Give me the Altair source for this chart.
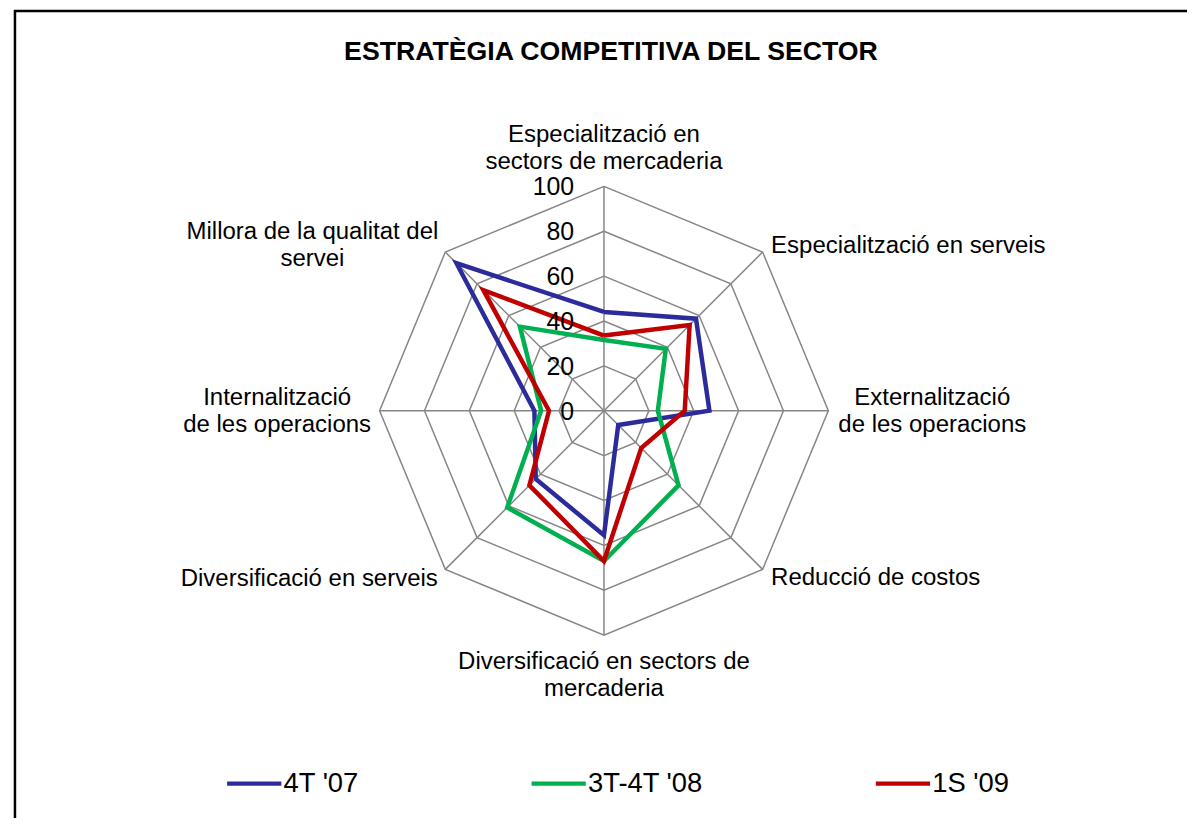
import math
import altair as alt
import pandas as pd

# ---------------- data ----------------
categories = [
    "Especialització en\nsectors de mercaderia",
    "Especialització en serveis",
    "Externalització\nde les operacions",
    "Reducció de costos",
    "Diversificació en sectors de\nmercaderia",
    "Diversificació en serveis",
    "Internalització\nde les operacions",
    "Millora de la qualitat del\nservei",
]
series_names = ["4T '07", "3T-4T '08", "1S '09"]
values_4t07 = [44, 58, 47, 9, 55.5, 43, 31, 93]
values_3t4t08 = [31.5, 39, 24, 47, 67, 61, 28, 53]
values_1s09 = [33.5, 54, 36, 23.5, 67, 47, 24.5, 76]
tick_values = [0, 20, 40, 60, 80, 100]
tick_labels = ["0", "20", "40", "60", "80", "100"]
title_text = "ESTRATÈGIA COMPETITIVA DEL SECTOR"

# ---------------- styling / layout ----------------
colors = ["#2B2B9B", "#00B050", "#C00000"]
FONT = "Liberation Sans"
GRID = "#868686"
S = 2.255            # pixels per value unit
W, H = 1185, 812
CX, CY = 599, 402.7  # radar centre inside the svg
N = len(categories)
XS = alt.Scale(domain=[-CX, W - CX], nice=False, zero=False)
YS = alt.Scale(domain=[-(H - CY), CY], nice=False, zero=False)

# label layout: (page x, first baseline page y, align)
label_layout = [
    (607, 141, "center"),
    (775, 252, "left"),
    (937, 405, "center"),
    (775, 586, "left"),
    (607, 670, "center"),
    (440, 587, "right"),
    (278.5, 405, "center"),
    (314, 238, "center"),
]
PAGE_CX, PAGE_CY = CX + 8, CY + 8

ang = "2*PI*datum.idx/%d" % N

# ---------------- grid ----------------
ring_rows = [{"level": lv, "idx": k % N, "order": k}
             for lv in tick_values[1:] for k in range(N + 1)]
rings = alt.Chart(pd.DataFrame(ring_rows)).transform_calculate(
    px="datum.level*%f*sin(%s)" % (S, ang),
    py="datum.level*%f*cos(%s)" % (S, ang),
).mark_line(color=GRID, strokeWidth=1.5).encode(
    x=alt.X("px:Q", scale=XS, axis=None),
    y=alt.Y("py:Q", scale=YS, axis=None),
    detail="level:N",
    order="order:Q",
)

spoke_rows = [{"idx": k, "level": tick_values[-1]} for k in range(N)]
spokes = alt.Chart(pd.DataFrame(spoke_rows)).transform_calculate(
    x0="0", y0="0",
    qx="datum.level*%f*sin(%s)" % (S, ang),
    qy="datum.level*%f*cos(%s)" % (S, ang),
).mark_rule(color=GRID, strokeWidth=1.5).encode(
    x=alt.X("x0:Q", scale=XS, axis=None),
    y=alt.Y("y0:Q", scale=YS, axis=None),
    x2="qx:Q",
    y2="qy:Q",
)

# ---------------- series ----------------
legend = alt.Legend(
    title=None, orient="none", legendX=218, legendY=748,
    direction="horizontal", symbolType="stroke", symbolSize=2970,
    symbolStrokeWidth=4.5, labelFontSize=27.5, labelFont=FONT,
    labelColor="black", labelOffset=0, columnPadding=164, padding=0,
)
series_layers = []
for name, vals in zip(series_names, [values_4t07, values_3t4t08, values_1s09]):
    rows = [{"serie": name, "idx": k % N, "order": k, "value": vals[k % N]}
            for k in range(N + 1)]
    series_layers.append(
        alt.Chart(pd.DataFrame(rows)).transform_calculate(
            px="datum.value*%f*sin(%s)" % (S, ang),
            py="datum.value*%f*cos(%s)" % (S, ang),
        ).mark_line(strokeWidth=4.5, strokeJoin="miter").encode(
            x=alt.X("px:Q", scale=XS, axis=None),
            y=alt.Y("py:Q", scale=YS, axis=None),
            color=alt.Color("serie:N", sort=series_names,
                            scale=alt.Scale(domain=series_names, range=colors),
                            legend=legend),
            order="order:Q",
        )
    )

# ---------------- tick labels ----------------
ticks_df = pd.DataFrame({"v": tick_values, "t": tick_labels})
ticks = alt.Chart(ticks_df).transform_calculate(
    tx="-30", ty="datum.v*%f" % S,
).mark_text(align="right", baseline="alphabetic", dy=9, fontSize=25,
            font=FONT, color="black").encode(
    x=alt.X("tx:Q", scale=XS, axis=None),
    y=alt.Y("ty:Q", scale=YS, axis=None),
    text="t:N",
)

# ---------------- category labels ----------------
lab_df = pd.DataFrame({
    "label": categories,
    "lx": [p[0] - PAGE_CX for p in label_layout],
    "ly": [PAGE_CY - p[1] for p in label_layout],
    "al": [p[2] for p in label_layout],
})
label_layers = []
for al in ["left", "center", "right"]:
    label_layers.append(
        alt.Chart(lab_df).transform_filter(alt.datum.al == al).mark_text(
            align=al, baseline="alphabetic", fontSize=24.1, font=FONT,
            color="black", lineBreak="\n", lineHeight=27,
        ).encode(
            x=alt.X("lx:Q", scale=XS, axis=None),
            y=alt.Y("ly:Q", scale=YS, axis=None),
            text="label:N",
        )
    )

# ---------------- title ----------------
title_df = pd.DataFrame({"t": [title_text], "tx": [614 - PAGE_CX],
                         "ty": [PAGE_CY - 58]})
title = alt.Chart(title_df).mark_text(
    align="center", baseline="alphabetic", fontSize=26.8, fontWeight="bold",
    font=FONT, color="black",
).encode(
    x=alt.X("tx:Q", scale=XS, axis=None),
    y=alt.Y("ty:Q", scale=YS, axis=None),
    text="t:N",
)

# ---------------- frame (left & top edges) ----------------
one = pd.DataFrame({"a": [0]})
frame_left = alt.Chart(one).mark_rule(color="black", strokeWidth=2.5).encode(
    x=alt.value(7), y=alt.value(0), y2=alt.value(H))
frame_top = alt.Chart(one).mark_rule(color="black", strokeWidth=2.5).encode(
    x=alt.value(6), x2=alt.value(W), y=alt.value(1))

chart = alt.layer(
    rings, spokes, *series_layers, ticks, *label_layers, title,
    frame_left, frame_top,
).properties(
    width=W, height=H, padding=0, background="white",
    autosize=alt.AutoSizeParams(type="none"),
).configure_view(stroke=None)

chart.save("out.html", embed_options={"renderer": "svg", "actions": False})
